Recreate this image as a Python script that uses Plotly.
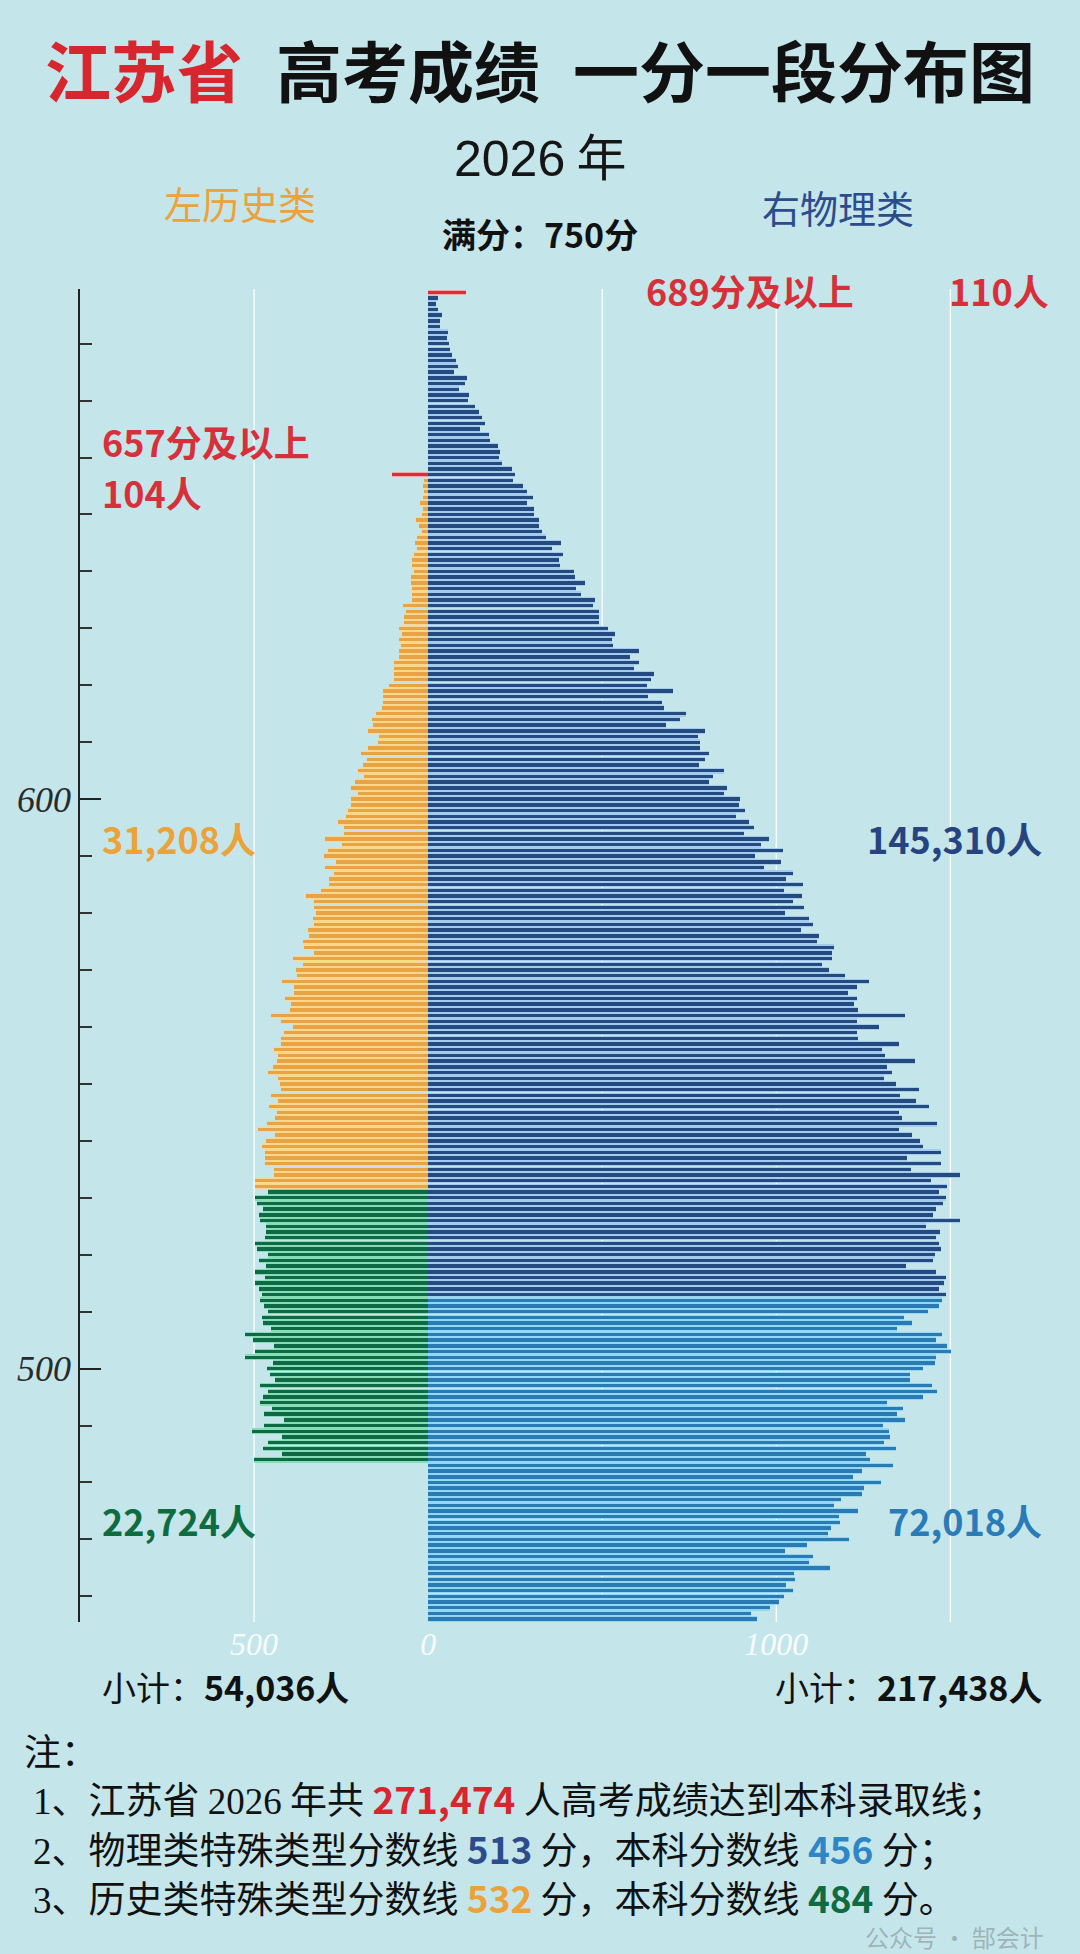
import plotly.graph_objects as go

# ---------------- data ----------------
# 物理类: one bar per score, from 689 (689分及以上) down to 456
PHYS_TOP_SCORE = 689
PHYS_COUNTS = [
    110,
    28, 23, 28, 40, 33, 35, 57, 54, 59, 64,
    69, 79, 85, 74, 112, 107, 89, 117, 115, 134,
    145, 155, 162, 149, 176, 179, 202, 206, 204, 211,
    241, 249, 244, 273, 283, 301, 284, 304, 304, 318,
    318, 328, 339, 383, 356, 386, 376, 380, 418, 423,
    450, 425, 438, 480, 473, 492, 492, 492, 517, 537,
    527, 532, 605, 580, 605, 592, 649, 639, 629, 702,
    632, 672, 677, 742, 724, 684, 795, 774, 782, 782,
    808, 795, 777, 849, 819, 808, 859, 849, 896, 893,
    910, 884, 923, 935, 906, 980, 956, 1018, 940, 1013,
    966, 1048, 1027, 1077, 1023, 1075, 1047, 1080, 1025, 1095,
    1104, 1072, 1122, 1117, 1167, 1160, 1160, 1130, 1152, 1197,
    1267, 1232, 1206, 1231, 1224, 1236, 1371, 1231, 1296, 1231,
    1236, 1351, 1304, 1312, 1399, 1319, 1333, 1309, 1344, 1411,
    1354, 1401, 1440, 1351, 1361, 1463, 1351, 1389, 1414, 1421,
    1473, 1376, 1473, 1388, 1528, 1443, 1491, 1466, 1488, 1480,
    1460, 1450, 1527, 1430, 1471, 1458, 1468, 1473, 1456, 1451,
    1373, 1460, 1486, 1481, 1468, 1488, 1476, 1468, 1436, 1368,
    1389, 1346, 1475, 1458, 1491, 1503, 1460, 1456, 1420, 1384,
    1384, 1448, 1461, 1420, 1319, 1364, 1346, 1369, 1306, 1323,
    1326, 1309, 1343, 1259, 1269, 1334, 1247, 1221, 1300, 1252,
    1247, 1187, 1165, 1236, 1179, 1182, 1157, 1149, 1209, 1088,
    1025, 1105, 1095, 1154, 1052, 1053, 1028, 1048, 1023, 1008,
    983, 926, 945,
]

# 历史类: one bar per score, from 657 (657分及以上) down to 484
HIST_TOP_SCORE = 657
HIST_COUNTS = [
    104,
    12, 15, 12, 15, 22, 15, 18, 35, 27, 18,
    32, 38, 32, 40, 45, 45, 40, 48, 50, 47,
    45, 47, 72, 65, 69, 69, 84, 75, 85, 79,
    85, 85, 97, 99,
    99, 99, 112, 129, 129, 130, 132, 150, 162, 157,
    172, 140, 145, 172, 192, 177, 186, 201, 184, 209,
    221, 201, 221, 222, 229, 236, 259, 242, 242, 296,
    247, 289, 299,
    264, 296, 271, 284, 284, 309, 351, 329, 329, 321,
    331, 329, 346, 343, 359, 358, 329, 388, 359, 381,
    376, 420, 386, 385, 410, 393, 398, 451, 423, 388,
    413, 423, 423, 443,
    431, 433, 446, 461, 430, 426, 423, 451, 431, 456,
    433, 441, 463, 488, 440, 465, 478, 468, 468, 468,
    443, 443, 497, 497,
    460, 497, 493, 475, 485, 482, 466, 466, 468, 497,
    493, 460, 485, 466, 497, 470, 497, 485, 477, 482,
    472, 460, 478, 475, 451, 525, 503, 443, 497, 525,
    445, 463, 455, 440, 483, 460, 473, 482, 448, 472,
    415, 472, 505, 421, 460, 473, 421, 500,
]

PHYS_SPECIAL_LINE = 513
PHYS_BASE_LINE = 456
HIST_SPECIAL_LINE = 532
HIST_BASE_LINE = 484

PHYS_SUB_SPECIAL = 145310
PHYS_SUB_BASE = 72018
HIST_SUB_SPECIAL = 31208
HIST_SUB_BASE = 22724
PHYS_TOP_N = 110
HIST_TOP_N = 104
FULL_SCORE = 750
YEAR = 2026

X_TICK_VALUES = [-500, 0, 1000]
X_TICK_TEXT = ["500", "0", "1000"]
GRID_VALUES = [-500, 500, 1000, 1500]

# ---------------- styles ----------------
BG = "#c4e6eb"
RED = "#d8303a"
RED_LIGHT = "#eeaaa8"
PHYS_DARK = "#244a80"
PHYS_DARK_L = "#a2cbee"
PHYS_BLUE = "#2a7bb4"
PHYS_BLUE_L = "#92d8f4"
HIST_ORANGE = "#e8a444"
HIST_ORANGE_L = "#fbd78e"
HIST_GREEN = "#0e6a44"
HIST_GREEN_L = "#86dcb4"

CJK = "Noto Sans CJK SC"
NUM = "Liberation Sans Narrow, Noto Sans CJK SC"
SERIF = "Liberation Serif"

phys_scores = [PHYS_TOP_SCORE - i for i in range(len(PHYS_COUNTS))]
hist_scores = [HIST_TOP_SCORE - i for i in range(len(HIST_COUNTS))]


def segment(scores, counts, cond):
    ys = [s for s, c in zip(scores, counts) if cond(s)]
    xs = [c for s, c in zip(scores, counts) if cond(s)]
    return ys, xs


segments = [
    (phys_scores, PHYS_COUNTS, 1, RED, RED_LIGHT, lambda s: s == PHYS_TOP_SCORE),
    (phys_scores, PHYS_COUNTS, 1, PHYS_DARK, PHYS_DARK_L,
     lambda s: PHYS_SPECIAL_LINE <= s < PHYS_TOP_SCORE),
    (phys_scores, PHYS_COUNTS, 1, PHYS_BLUE, PHYS_BLUE_L,
     lambda s: PHYS_BASE_LINE <= s < PHYS_SPECIAL_LINE),
    (hist_scores, HIST_COUNTS, -1, RED, RED_LIGHT, lambda s: s == HIST_TOP_SCORE),
    (hist_scores, HIST_COUNTS, -1, HIST_ORANGE, HIST_ORANGE_L,
     lambda s: HIST_SPECIAL_LINE <= s < HIST_TOP_SCORE),
    (hist_scores, HIST_COUNTS, -1, HIST_GREEN, HIST_GREEN_L,
     lambda s: HIST_BASE_LINE <= s < HIST_SPECIAL_LINE),
]

fig = go.Figure()
for layer in ("light", "dark"):
    for scores, counts, sign, dark, light, cond in segments:
        ys, xs = segment(scores, counts, cond)
        fig.add_trace(go.Bar(
            y=ys, x=[sign * v for v in xs], orientation="h",
            width=0.98 if layer == "light" else 0.6,
            marker=dict(color=light if layer == "light" else dark, line=dict(width=0)),
            hoverinfo="skip", showlegend=False,
        ))

# plot area in page pixels
L, R, T, B = 80, 1020, 289, 1622
W, H = 1080, 1954


def pp(x, y):
    return (x - L) / (R - L), (B - y) / (B - T)


annotations = []


def add_text(text, x, y, size, color="#111111", xanchor="left", family=CJK):
    px_, py_ = pp(x, y)
    annotations.append(dict(
        text=text, x=px_, y=py_, xref="paper", yref="paper",
        xanchor=xanchor, yanchor="middle", showarrow=False,
        font=dict(size=size, color=color, family=family),
    ))


# title
add_text("<b><span style='color:#d8262f'>江苏省</span>\u2002高考成绩\u2002一分一段分布图</b>",
         540, 68, 66, "#111111", "center")
add_text(f"<span style='font-family:Liberation Sans'>{YEAR}</span> 年", 540, 154, 50,
         "#151515", "center")
add_text("左历史类", 240, 202, 38, "#eca23a", "center")
add_text("右物理类", 838, 206, 38, "#2d4c8c", "center")
add_text(f"<b>满分：{FULL_SCORE}分</b>", 540, 233, 34, "#111111", "center", NUM)

add_text(f"<b>{PHYS_TOP_SCORE}分及以上</b>", 644, 290, 36, RED, "left", NUM)
add_text(f"<b>{PHYS_TOP_N}人</b>", 947, 290, 36, RED, "left", NUM)
add_text(f"<b>{HIST_TOP_SCORE}分及以上</b>", 100, 441, 36, RED, "left", NUM)
add_text(f"<b>{HIST_TOP_N}人</b>", 100, 492, 36, RED, "left", NUM)

add_text(f"<b>{HIST_SUB_SPECIAL:,}人</b>", 100, 838, 36, "#eca23a", "left", NUM)
add_text(f"<b>{PHYS_SUB_SPECIAL:,}人</b>", 1044, 838, 36, "#26447f", "right", NUM)
add_text(f"<b>{HIST_SUB_BASE:,}人</b>", 100, 1520, 36, "#0f6b40", "left", NUM)
add_text(f"<b>{PHYS_SUB_BASE:,}人</b>", 1044, 1520, 36, "#2a7bb8", "right", NUM)

hist_total = HIST_TOP_N + HIST_SUB_SPECIAL + HIST_SUB_BASE
phys_total = PHYS_TOP_N + PHYS_SUB_SPECIAL + PHYS_SUB_BASE
add_text(f"小计：<b>{hist_total:,}人</b>", 100, 1686, 34, "#111111", "left", NUM)
add_text(f"小计：<b>{phys_total:,}人</b>", 1044, 1686, 34, "#111111", "right", NUM)

# notes
NOTE_SIZE = 37
SER = "font-family:Liberation Serif"
NB = "font-family:Liberation Sans Narrow, Noto Sans CJK SC, sans-serif;font-weight:bold"
add_text("注：", 22, 1750, NOTE_SIZE)
add_text(f"<span style='{SER}'>1</span>、江苏省 <span style='{SER}'>{YEAR}</span> 年共 "
         f"<span style='{NB};color:#d8262f'>{hist_total + phys_total:,}</span> 人高考成绩达到本科录取线；",
         31, 1798, NOTE_SIZE)
add_text(f"<span style='{SER}'>2</span>、物理类特殊类型分数线 "
         f"<span style='{NB};color:#2d4c8c'>{PHYS_SPECIAL_LINE}</span> 分，本科分数线 "
         f"<span style='{NB};color:#2f86c6'>{PHYS_BASE_LINE}</span> 分；",
         31, 1848, NOTE_SIZE)
add_text(f"<span style='{SER}'>3</span>、历史类特殊类型分数线 "
         f"<span style='{NB};color:#eca23a'>{HIST_SPECIAL_LINE}</span> 分，本科分数线 "
         f"<span style='{NB};color:#0f6b40'>{HIST_BASE_LINE}</span> 分。",
         31, 1897, NOTE_SIZE)
add_text("公众号 · 郜会计", 1046, 1936, 24, "rgba(120,128,132,0.5)", "right")

shapes = [
    dict(type="line", xref="x", yref="paper", x0=v, x1=v, y0=0, y1=1,
         line=dict(color="rgba(255,255,255,0.95)", width=1.3), layer="below")
    for v in GRID_VALUES
]

fig.update_layout(
    width=W, height=H, autosize=False,
    margin=dict(l=L, r=W - R, t=T, b=H - B, pad=0),
    paper_bgcolor=BG, plot_bgcolor=BG,
    barmode="overlay", bargap=0,
    showlegend=False,
    annotations=annotations,
    shapes=shapes,
    xaxis=dict(
        range=[-1000, 1700], tickvals=X_TICK_VALUES, ticktext=X_TICK_TEXT,
        showgrid=False, zeroline=False, showline=False, ticks="",
        tickfont=dict(family=SERIF, size=32, style="italic",
                      color="rgba(255,255,255,0.92)"),
        fixedrange=True,
    ),
    yaxis=dict(
        range=[455.5, 689.6], tick0=0, dtick=100,
        showgrid=False, zeroline=False,
        showline=True, linecolor="#222222", linewidth=1.5,
        ticks="inside", ticklen=21, tickwidth=2, tickcolor="#222222",
        tickfont=dict(family=SERIF, size=36, style="italic", color="#2a2a2a"),
        minor=dict(tick0=0, dtick=10, ticks="inside", ticklen=12, tickwidth=1.5,
                   tickcolor="#333333", showgrid=False),
        fixedrange=True,
    ),
)

fig.write_html("out.html")
